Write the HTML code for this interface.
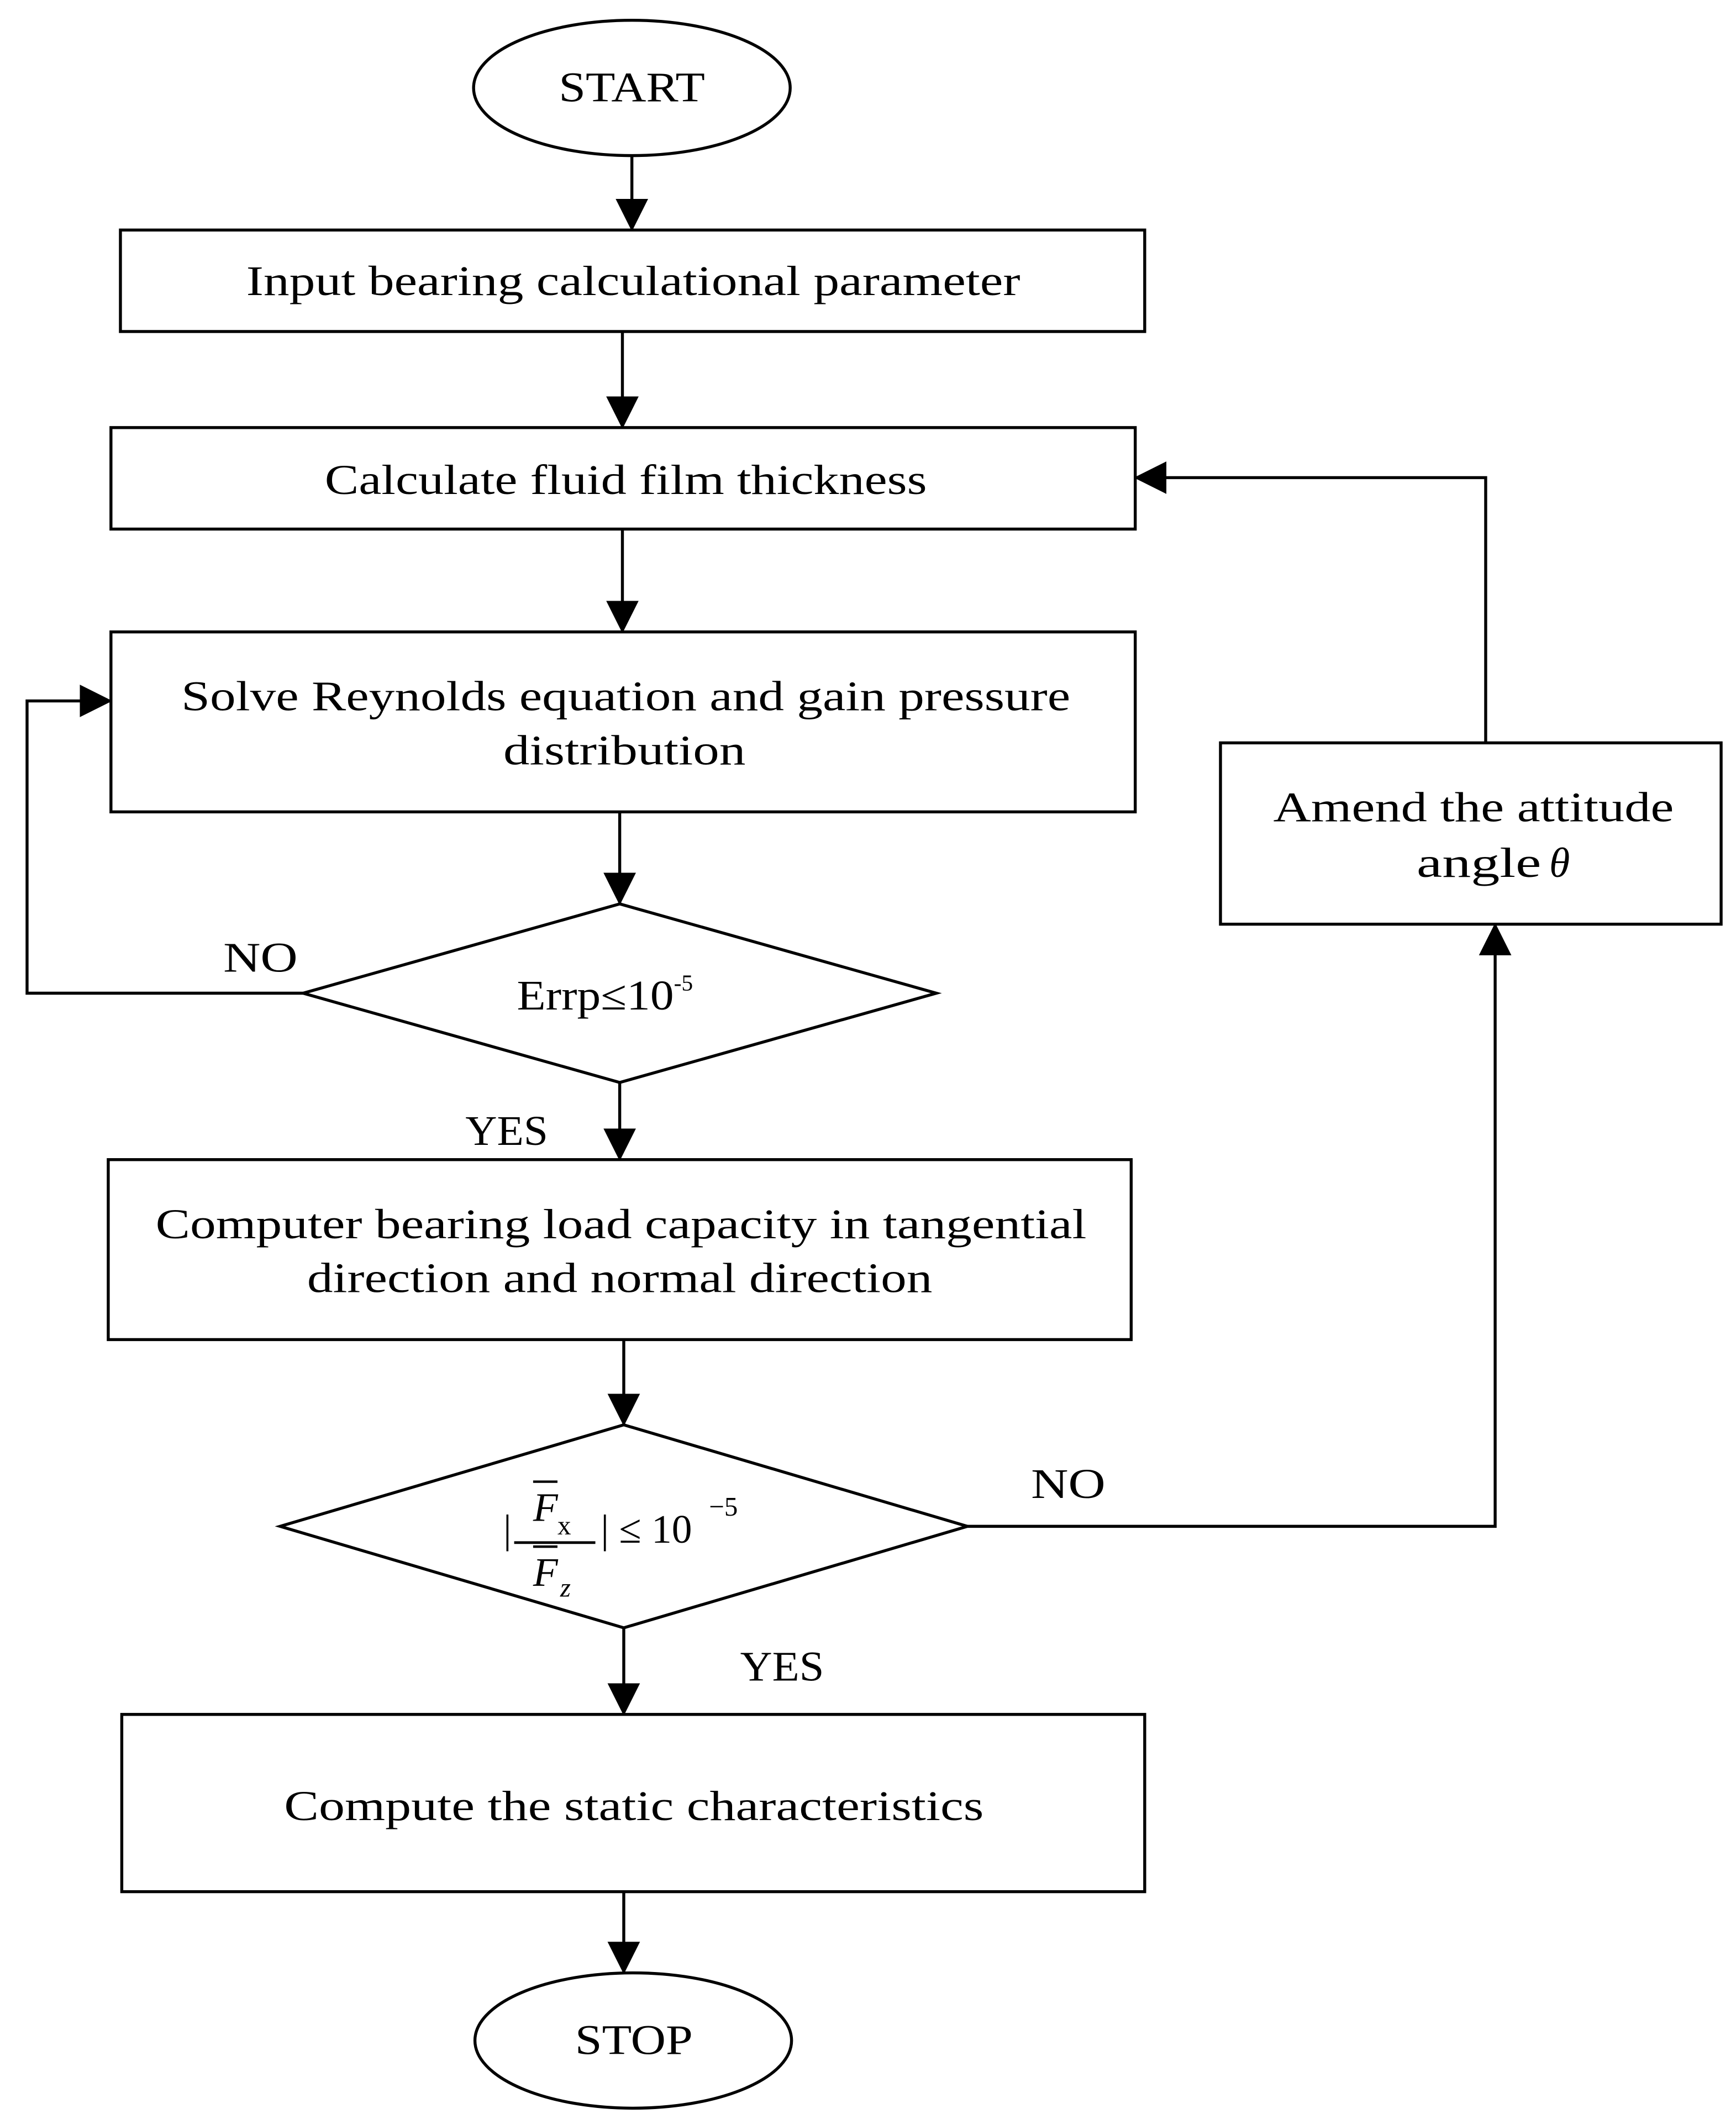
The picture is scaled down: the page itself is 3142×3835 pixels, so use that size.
<!DOCTYPE html>
<html>
<head>
<meta charset="utf-8">
<style>
html,body{margin:0;padding:0;background:#fff;}
svg{display:block;}
text{font-family:"Liberation Serif",serif;fill:#000;}
</style>
</head>
<body>
<svg width="3142" height="3835" viewBox="0 0 1283 1566" preserveAspectRatio="none" xmlns="http://www.w3.org/2000/svg">
<defs>
<marker id="av" viewBox="0 0 24 38" markerWidth="24" markerHeight="38" refX="23" refY="19" orient="auto" markerUnits="userSpaceOnUse">
<path d="M0,7 L24,19 L0,31 Z" fill="#000"/>
</marker>
</defs>
<g fill="none" stroke="#000" stroke-width="2.2">
<ellipse cx="467" cy="65" rx="117" ry="50"/>
<rect x="89" y="170" width="757" height="75"/>
<rect x="82" y="316" width="757" height="75"/>
<rect x="82" y="467" width="757" height="133"/>
<polygon points="458,668 692,734 458,800 224,734"/>
<rect x="80" y="857" width="756" height="133"/>
<polygon points="461,1053 715,1128 461,1203 207,1128"/>
<rect x="902" y="549" width="370" height="134"/>
<rect x="90" y="1267" width="756" height="131"/>
<ellipse cx="468" cy="1508" rx="117" ry="50"/>

<line x1="467" y1="115" x2="467" y2="170" marker-end="url(#av)"/>
<line x1="460" y1="245" x2="460" y2="316" marker-end="url(#av)"/>
<line x1="460" y1="391" x2="460" y2="467" marker-end="url(#av)"/>
<line x1="458" y1="600" x2="458" y2="668" marker-end="url(#av)"/>
<polyline points="224,734 20,734 20,518 82,518" marker-end="url(#av)"/>
<line x1="458" y1="800" x2="458" y2="857" marker-end="url(#av)"/>
<line x1="461" y1="990" x2="461" y2="1053" marker-end="url(#av)"/>
<polyline points="715,1128 1105,1128 1105,683" marker-end="url(#av)"/>
<polyline points="1098,549 1098,353 839,353" marker-end="url(#av)"/>
<line x1="461" y1="1203" x2="461" y2="1267" marker-end="url(#av)"/>
<line x1="461" y1="1398" x2="461" y2="1458" marker-end="url(#av)"/>
</g>
<g font-size="31" lengthAdjust="spacingAndGlyphs">
<text x="413" y="75" textLength="108" lengthAdjust="spacingAndGlyphs">START</text>
<text x="182" y="218" textLength="572" lengthAdjust="spacingAndGlyphs">Input bearing calculational parameter</text>
<text x="240" y="365" textLength="445" lengthAdjust="spacingAndGlyphs">Calculate fluid film thickness</text>
<text x="134" y="525" textLength="657" lengthAdjust="spacingAndGlyphs">Solve Reynolds equation and gain pressure</text>
<text x="372" y="565" textLength="179" lengthAdjust="spacingAndGlyphs">distribution</text>
<text x="165" y="718" textLength="55" lengthAdjust="spacingAndGlyphs">NO</text>
<text x="382" y="746" textLength="116" lengthAdjust="spacingAndGlyphs">Errp≤10</text>
<text x="498" y="732" font-size="17">-5</text>
<text x="344" y="846" textLength="61" lengthAdjust="spacingAndGlyphs">YES</text>
<text x="115" y="915" textLength="688" lengthAdjust="spacingAndGlyphs">Computer bearing load capacity in tangential</text>
<text x="227" y="955" textLength="462" lengthAdjust="spacingAndGlyphs">direction and normal direction</text>
<text x="762" y="1107" textLength="55" lengthAdjust="spacingAndGlyphs">NO</text>
<text x="941" y="607" textLength="296" lengthAdjust="spacingAndGlyphs">Amend the attitude</text>
<text x="1047" y="648" textLength="92" lengthAdjust="spacingAndGlyphs">angle</text>
<text x="1145" y="648" font-style="italic">θ</text>
<text x="547" y="1242" textLength="62" lengthAdjust="spacingAndGlyphs">YES</text>
<text x="210" y="1345" textLength="517" lengthAdjust="spacingAndGlyphs">Compute the static  characteristics</text>
<text x="425" y="1518" textLength="87" lengthAdjust="spacingAndGlyphs">STOP</text>
</g>
<g font-size="30">
<text x="372" y="1140">|</text>
<text x="394" y="1124" font-style="italic">F</text>
<text x="412" y="1134" font-size="20">x</text>
<line x1="380" y1="1140" x2="440" y2="1140" stroke="#000" stroke-width="2"/>
<line x1="394" y1="1095" x2="412" y2="1095" stroke="#000" stroke-width="1.8"/>
<text x="394" y="1172" font-style="italic">F</text>
<text x="414" y="1180" font-size="20" font-style="italic">z</text>
<line x1="394" y1="1143" x2="412" y2="1143" stroke="#000" stroke-width="1.8"/>
<text x="444" y="1140">| ≤ 10</text>
<text x="524" y="1120" font-size="20">−5</text>
</g>
</svg>
</body>
</html>
